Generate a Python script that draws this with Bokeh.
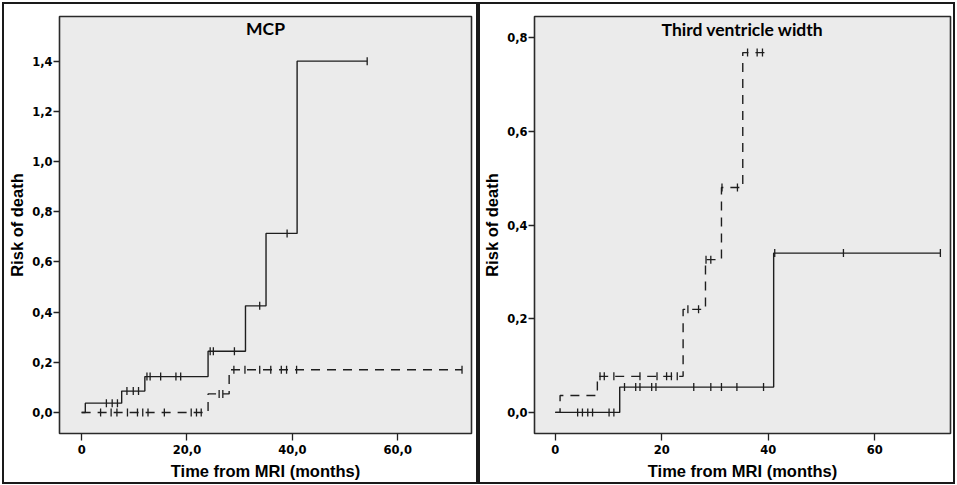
from bokeh.plotting import figure
from bokeh.layouts import row, column
from bokeh.models import FixedTicker, Label, Range1d, Spacer
from bokeh.embed import file_html
from bokeh.resources import INLINE
import numpy as np

# ---------------- data ----------------
# Panel 1: MCP
mcp_solid_t = [0, 0.7, 7.6, 12.0, 24.0, 31.1, 35.0, 40.9, 54.2]
mcp_solid_v = [0.0, 0.037, 0.085, 0.143, 0.244, 0.425, 0.714, 1.401, 1.401]
mcp_solid_cens = [4.7, 5.8, 6.8, 8.6, 9.8, 10.8, 12.4, 13.0, 15.0, 17.9, 18.8,
                  24.4, 25.0, 29.0, 33.8, 39.0, 54.2]
mcp_dash_t = [0, 24.0, 28.0, 72.2]
mcp_dash_v = [0.0, 0.074, 0.170, 0.170]
mcp_dash_cens = [3.6, 5.6, 6.7, 8.7, 10.6, 11.6, 12.6, 15.7, 20.8, 21.8, 22.7,
                 26.1, 26.8, 28.9, 31.0, 33.8, 35.9, 37.9, 38.9, 40.8, 72.2]

# Panel 2: Third ventricle width
tvw_solid_t = [0, 12.1, 41.0, 72.3]
tvw_solid_v = [0.0, 0.054, 0.340, 0.340]
tvw_solid_cens = [4.2, 5.1, 6.1, 7.0, 10.1, 11.0, 13.0, 15.1, 15.9, 18.1, 18.9,
                  26.0, 29.2, 31.2, 34.1, 39.1, 41.2, 54.1, 72.3]
tvw_dash_t = [0, 0.9, 7.9, 24.0, 28.2, 31.2, 35.2, 39.4]
tvw_dash_v = [0.0, 0.036, 0.077, 0.220, 0.326, 0.480, 0.768, 0.768]
tvw_dash_cens = [8.4, 9.2, 11.0, 15.9, 19.1, 20.9, 21.8, 22.9, 24.9, 26.9,
                 28.3, 29.2, 31.3, 34.2, 36.1, 37.9, 38.9]

# ticks
mcp_yticks = [0.0, 0.2, 0.4, 0.6, 0.8, 1.0, 1.2, 1.4]
mcp_ylabels = ["0,0", "0,2", "0,4", "0,6", "0,8", "1,0", "1,2", "1,4"]
mcp_xticks = [0, 20, 40, 60]
mcp_xlabels = ["0", "20,0", "40,0", "60,0"]
tvw_yticks = [0.0, 0.2, 0.4, 0.6, 0.8]
tvw_ylabels = ["0,0", "0,2", "0,4", "0,6", "0,8"]
tvw_xticks = [0, 20, 40, 60]
tvw_xlabels = ["0", "20", "40", "60"]

titles = ["MCP", "Third ventricle width"]
x_label = "Time from MRI (months)"
y_label = "Risk of death"

LINE = "#1e1e1e"
FRAME_BG = "#ebebeb"


def step_value(ts, vs, t):
    ts = np.asarray(ts)
    idx = np.searchsorted(ts, t, side="right") - 1
    return float(np.asarray(vs)[max(idx, 0)])


def make_panel(title, xr, yr, title_y, yticks, ylabels, xticks, xlabels,
               curves, width, height, bl, br, bt, bb):
    p = figure(width=width, height=height, output_backend="svg",
               toolbar_location=None, x_range=Range1d(*xr), y_range=Range1d(*yr),
               min_border_left=bl, min_border_right=br,
               min_border_top=bt, min_border_bottom=bb)
    p.background_fill_color = FRAME_BG
    p.border_fill_color = "white"
    p.outline_line_color = "#2a2a2a"
    p.outline_line_width = 1.6
    p.grid.visible = False
    # outer panel border
    p.styles = {"border": "2px solid #1a1a1a"}

    for ax in (p.xaxis[0], p.yaxis[0]):
        ax.axis_line_color = None
        ax.major_tick_line_color = "#222222"
        ax.major_tick_line_width = 1.3
        ax.major_tick_in = 0
        ax.minor_tick_line_color = None
        ax.major_label_text_font = "DejaVu Sans"
        ax.major_label_text_font_style = "bold"
        ax.major_label_text_font_size = "11.5px"
        ax.major_label_text_color = "black"
        ax.axis_label_text_font = "Liberation Sans"
        ax.axis_label_text_font_style = "bold"
        ax.axis_label_text_font_size = "16.5px"
        ax.axis_label_text_color = "black"

    p.xaxis[0].ticker = FixedTicker(ticks=xticks)
    p.xaxis[0].major_label_overrides = {t: l for t, l in zip(xticks, xlabels)}
    p.xaxis[0].major_tick_out = 7
    p.xaxis[0].major_label_standoff = 4
    p.xaxis[0].axis_label = x_label
    p.xaxis[0].axis_label_standoff = 5

    p.yaxis[0].ticker = FixedTicker(ticks=yticks)
    p.yaxis[0].major_label_overrides = {t: l for t, l in zip(yticks, ylabels)}
    p.yaxis[0].major_tick_out = 6
    p.yaxis[0].major_label_standoff = 1
    p.yaxis[0].axis_label = y_label
    p.yaxis[0].axis_label_standoff = 3

    for ts, vs, cens, dash in curves:
        p.step(ts, vs, mode="after", line_color=LINE, line_width=1.4,
               line_dash=("9 7" if dash else "solid"))
        cy = [step_value(ts, vs, c) for c in cens]
        p.scatter(cens, cy, marker="dash", angle=np.pi / 2, size=8,
                  line_color=LINE, line_width=1.3)

    p.add_layout(Label(x=(xr[0] + xr[1]) / 2, y=title_y, text=title,
                       text_font="Lato", text_font_style="bold",
                       text_font_size="17.5px", text_align="center",
                       text_baseline="middle", text_color="black"))
    return p


p1 = make_panel(titles[0], (-4.2, 74.0), (-0.084, 1.579), 1.531,
                mcp_yticks, mcp_ylabels, mcp_xticks, mcp_xlabels,
                [(mcp_solid_t, mcp_solid_v, mcp_solid_cens, False),
                 (mcp_dash_t, mcp_dash_v, mcp_dash_cens, True)],
                width=476, height=482, bl=55, br=9, bt=11, bb=53)

p2 = make_panel(titles[1], (-3.9, 74.2), (-0.045, 0.845), 0.817,
                tvw_yticks, tvw_ylabels, tvw_xticks, tvw_xlabels,
                [(tvw_solid_t, tvw_solid_v, tvw_solid_cens, False),
                 (tvw_dash_t, tvw_dash_v, tvw_dash_cens, True)],
                width=477, height=482, bl=53, br=7, bt=12, bb=53)

layout = column(Spacer(height=2),
                row(Spacer(width=2), p1, p2, spacing=0),
                spacing=0)

open("out.html", "w").write(file_html(layout, INLINE))
